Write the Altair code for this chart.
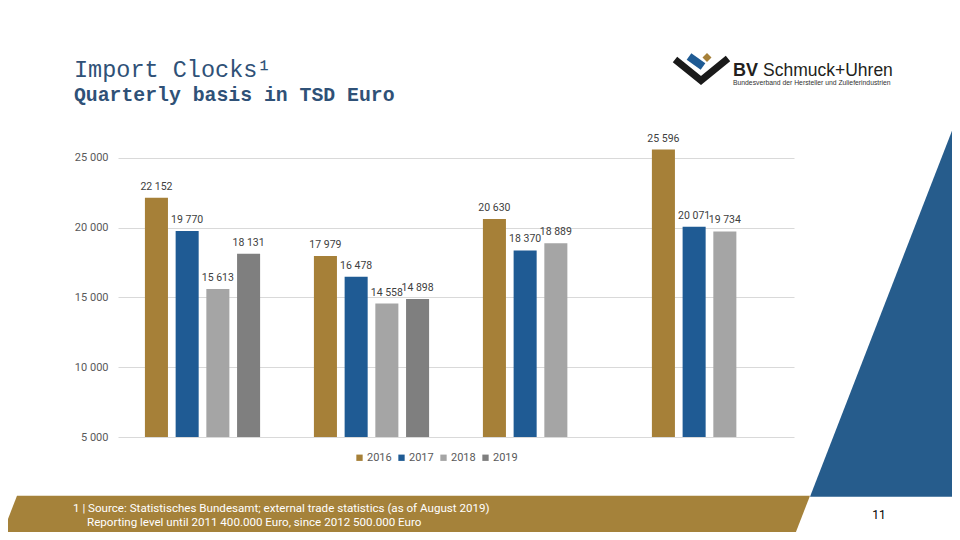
import altair as alt
import pandas as pd

# ---------------- data ----------------
quarters = ["Q1", "Q2", "Q3", "Q4"]
years = ["2016", "2017", "2018", "2019"]
v2016 = [22152, 17979, 20630, 25596]
v2017 = [19770, 16478, 18370, 20071]
v2018 = [15613, 14558, 18889, 19734]
v2019 = [18131, 14898, None, None]
y_ticks = [5000, 10000, 15000, 20000, 25000]
bar_colors = ["#A68038", "#1F5B94", "#A5A5A5", "#7F7F7F"]

title_text = "Import Clocks\u00b9"
subtitle_text = "Quarterly basis in TSD Euro"
foot1 = "1 | Source: Statistisches Bundesamt; external trade statistics (as of August 2019)"
foot2 = "Reporting level until 2011 400.000 Euro, since 2012 500.000 Euro"
page_no = "11"
logo_bold = "BV"
logo_reg = "Schmuck+Uhren"
logo_sub = "Bundesverband der Hersteller und Zulieferindustrien"

rows = []
for yr, vals in zip(years, [v2016, v2017, v2018, v2019]):
    for q, v in zip(quarters, vals):
        if v is not None:
            rows.append({"quarter": q, "year": yr, "value": v})
df = pd.DataFrame(rows)

FMT = "replace(format(datum.value, ','), ',', ' ')"

# ---------------- bar chart ----------------
X_BAR = alt.X("quarter:N", sort=quarters, axis=None,
              scale=alt.Scale(paddingInner=0.273, paddingOuter=0.1366))
XOFF = alt.XOffset("year:N", sort=years,
                   scale=alt.Scale(paddingInner=0.25, paddingOuter=0.125))
Y_SCALE = alt.Scale(domain=[5000, 27000], nice=False, zero=False)
Y_BAR = alt.Y("value:Q", scale=Y_SCALE,
              axis=alt.Axis(values=y_ticks, title=None, grid=True, gridColor="#D9D9D9",
                            domain=False, ticks=False, labelPadding=10, labelFontSize=11,
                            labelColor="#595959", labelFont="Roboto", labelExpr=FMT))

bars = alt.Chart(df).mark_bar().encode(
    x=X_BAR, xOffset=XOFF, y=Y_BAR, y2=alt.datum(5000),
    color=alt.Color("year:N", sort=years,
                    scale=alt.Scale(domain=years, range=bar_colors),
                    legend=alt.Legend(orient="none", legendX=236, legendY=322,
                                      direction="horizontal", title=None,
                                      symbolType="square", symbolSize=40,
                                      symbolStrokeWidth=0, labelFontSize=11,
                                      labelFont="Roboto", labelColor="#595959",
                                      columnPadding=4, labelOffset=2)),
)

labels = alt.Chart(df).transform_calculate(lbl=FMT).mark_text(
    baseline="alphabetic", dy=-8, fontSize=10.5, font="Roboto", color="#404040"
).encode(x=X_BAR, xOffset=XOFF, y=alt.Y("value:Q", scale=Y_SCALE), text="lbl:N")

bar_layer = alt.layer(bars, labels)

# ---------------- page decoration (page pixel coordinates) ----------------
DX = alt.Scale(domain=[118, 794], nice=False, zero=False)
DY = alt.Scale(domain=[130.4, 437.3], nice=False, zero=False, reverse=True)


def dx(f):
    return alt.X(f, scale=DX, axis=None)


def dy(f):
    return alt.Y(f, scale=DY, axis=None)


gold_band = alt.Chart(pd.DataFrame({"py": [496, 545], "px": [17, -2], "px2": [810, 791]})).mark_area(
    orient="horizontal", color="#A5823A"
).encode(y=dy("py:Q"), x=dx("px:Q"), x2="px2:Q")

blue_panel = alt.Chart(pd.DataFrame({"py": [113, 497], "px": [959, 810], "px2": [970, 970]})).mark_area(
    orient="horizontal", color="#265C8C"
).encode(y=dy("py:Q"), x=dx("px:Q"), x2="px2:Q")

emblem_v = alt.Chart(pd.DataFrame({"px": [675, 701, 728], "py": [60, 81, 59], "o": [0, 1, 2]})).mark_line(
    color="#1A1A1A", strokeWidth=7, strokeJoin="miter"
).encode(x=dx("px:Q"), y=dy("py:Q"), order="o:Q")

emblem_blue = alt.Chart(pd.DataFrame({"px": [689, 703], "py": [57, 67], "o": [0, 1]})).mark_line(
    color="#1F5B94", strokeWidth=8, strokeCap="butt"
).encode(x=dx("px:Q"), y=dy("py:Q"), order="o:Q")

emblem_gold = alt.Chart(pd.DataFrame({"px": [707], "py": [58]})).mark_point(
    shape="square", filled=True, angle=45, size=40, color="#A68038", opacity=1
).encode(x=dx("px:Q"), y=dy("py:Q"))


def txt(s, x, y, **kw):
    return alt.Chart(pd.DataFrame({"t": [s], "px": [x], "py": [y]})).mark_text(**kw).encode(
        x=dx("px:Q"), y=dy("py:Q"), text="t:N")


texts = [
    txt(title_text, 74, 77, align="left", baseline="alphabetic", font="Liberation Mono",
        fontSize=23.5, color="#2F5177"),
    txt(subtitle_text, 74, 101, align="left", baseline="alphabetic", font="Liberation Mono",
        fontSize=19.8, fontWeight="bold", color="#2F5177"),
    txt(logo_bold, 733, 76.5, align="left", baseline="alphabetic", font="Liberation Sans",
        fontSize=18, fontWeight="bold", color="#231F20"),
    txt(logo_reg, 763, 76.5, align="left", baseline="alphabetic", font="Liberation Sans",
        fontSize=17.5, color="#231F20"),
    txt(logo_sub, 733, 85.5, align="left", baseline="alphabetic", font="Liberation Sans",
        fontSize=6.8, color="#333333"),
    txt(foot1, 73, 512, align="left", baseline="alphabetic", font="Roboto",
        fontSize=11.6, color="#FFFFFF"),
    txt(foot2, 87, 526, align="left", baseline="alphabetic", font="Roboto",
        fontSize=11.6, color="#FFFFFF"),
    txt(page_no, 879, 519, align="center", baseline="alphabetic", font="Roboto",
        fontSize=12, color="#000000"),
]

deco = alt.layer(gold_band, blue_panel, emblem_v, emblem_blue, emblem_gold, *texts)

chart = alt.layer(deco, bar_layer).resolve_scale(
    x="independent", y="independent"
).properties(
    width=676, height=307,
    padding={"left": 110, "top": 122, "right": 158, "bottom": 95},
    autosize="none", background="white",
).configure_view(stroke=None)

chart.save("out.html", embed_options={"renderer": "svg", "actions": False})
